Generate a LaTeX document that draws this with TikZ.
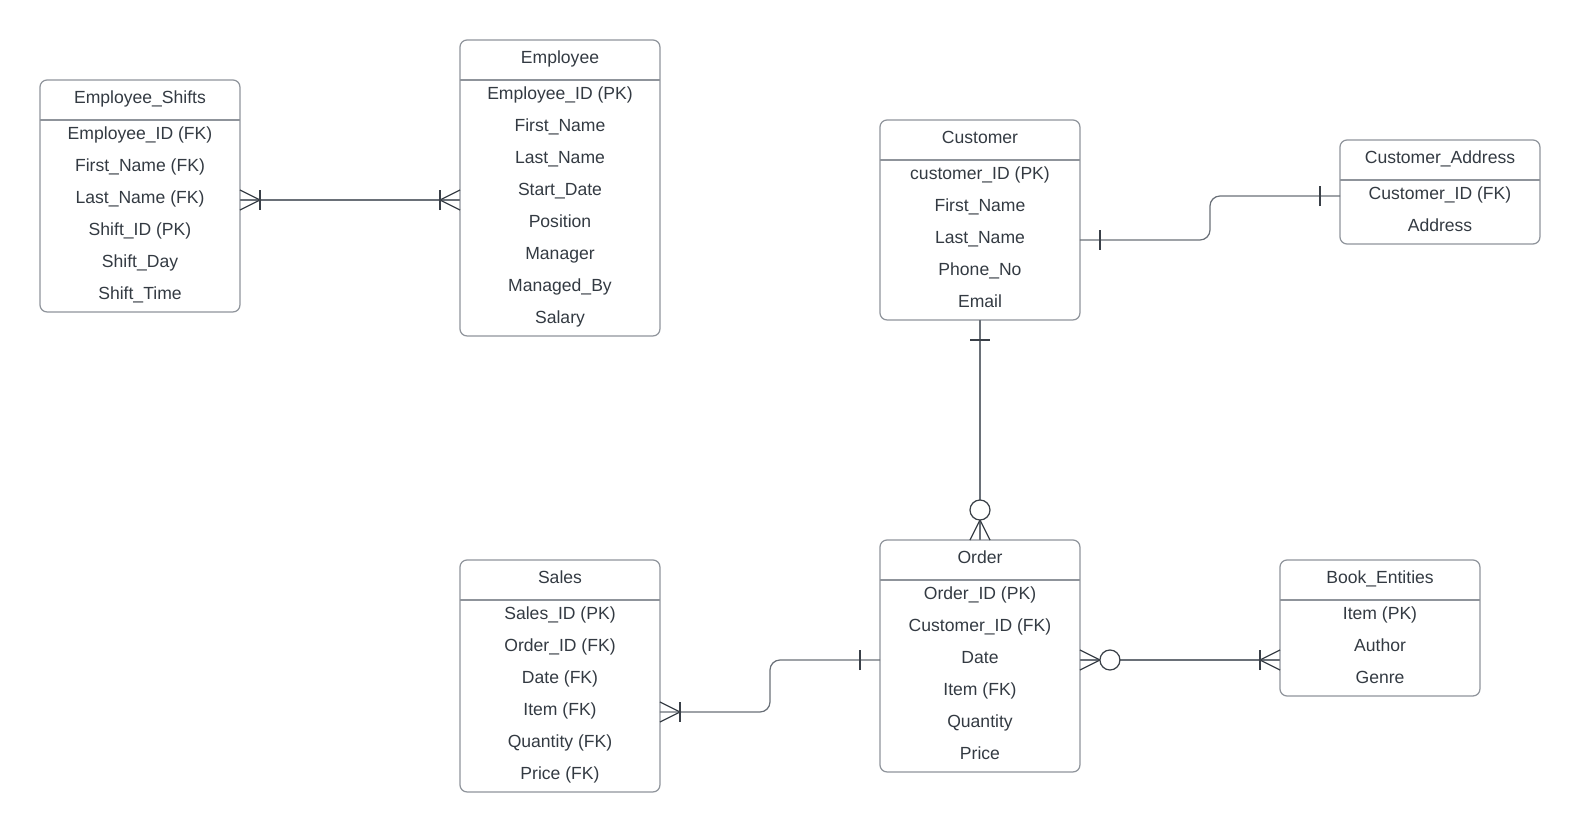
\documentclass[tikz,border=0pt]{standalone}
\usepackage{fontspec}
\setmainfont{Liberation Sans}
\usepackage{tikz}
\usepackage{xcolor}

\definecolor{boxgray}{HTML}{8F949B}
\definecolor{linegray}{HTML}{6A7078}
\definecolor{markgray}{HTML}{3A4048}
\definecolor{txtgray}{HTML}{333A42}

\tikzset{
	entity/.style={draw=boxgray, line width=0.7pt, rounded corners=0.14cm, anchor=north west, minimum width=4cm, inner sep=0pt, outer sep=0pt},
	divline/.style={draw=boxgray, line width=0.7pt},
	head/.style={text=txtgray, font=\fontsize{10}{12}\selectfont, inner sep=0pt, text height=7.2pt, text depth=0pt},
	field/.style={head},
	rel/.style={draw=linegray, line width=0.7pt, rounded corners=0.2cm},
	erline/.style={draw=markgray, line width=0.7pt},
	one/.pic={\draw[erline] (20,-10) -- (20,10);},
	onemany/.pic={\draw[erline] (0,-10) -- (20,0) -- (0,10); \draw[erline] (20,-10) -- (20,10);},
	zeromany/.pic={\draw[erline] (0,-10) -- (20,0) -- (0,10); \draw[erline, fill=white] (30,0) circle[radius=10];},
}

\newcommand{\erentity}[6]{%
	\node[entity, minimum height={0.8cm+#4*0.64cm}] (#1) at (#2,#3) {};
	\draw[divline] (#1.north west) ++(0,40) -- ++(200,0);
	\node[head] (#1-h) at ([shift={(100,17.5)}]#1.north west) {#5};
	\foreach \txt [count=\i] in {#6}
		\node[field] (#1-\i) at ([shift={(100,{21.5+32*\i})}]#1.north west) {\txt};
}

\begin{document}
\begin{tikzpicture}[x=0.02cm, y=-0.02cm]
	\useasboundingbox (0,0) rectangle (1580,832);
	% Define entities
	\erentity{shifts}{40}{80}{6}{Employee\_Shifts}{Employee\_ID (FK), First\_Name (FK), Last\_Name (FK), Shift\_ID (PK), Shift\_Day, Shift\_Time}
	\erentity{emp}{460}{40}{8}{Employee}{Employee\_ID (PK), First\_Name, Last\_Name, Start\_Date, Position, Manager, Managed\_By, Salary}
	\erentity{cust}{880}{120}{5}{Customer}{customer\_ID (PK), First\_Name, Last\_Name, Phone\_No, Email}
	\erentity{addr}{1340}{140}{2}{Customer\_Address}{Customer\_ID (FK), Address}
	\erentity{order}{880}{540}{6}{Order}{Order\_ID (PK), Customer\_ID (FK), Date, Item (FK), Quantity, Price}
	\erentity{sales}{460}{560}{6}{Sales}{Sales\_ID (PK), Order\_ID (FK), Date (FK), Item (FK), Quantity (FK), Price (FK)}
	\erentity{book}{1280}{560}{3}{Book\_Entities}{Item (PK), Author, Genre}

	% Relations
	\coordinate (cbend) at (1210,0);
	\coordinate (sbend) at (770,0);
	\draw[rel] ([yshift=-0.05cm]shifts-3 -| shifts.east) -- ([yshift=-0.05cm]shifts-3 -| emp.west);
	\draw[rel] ([yshift=-0.05cm]cust-3 -| cust.east) -| ([yshift=-0.05cm]cbend |- addr-1) -- ([yshift=-0.05cm]addr-1 -| addr.west);
	\draw[rel] (cust.south) -- (order.north);
	\draw[rel] ([yshift=-0.05cm]sales-4 -| sales.east) -| ([yshift=-0.05cm]sbend |- order-3) -- ([yshift=-0.05cm]order-3 -| order.west);
	\draw[rel] ([yshift=-0.05cm]order-3 -| order.east) -- ([yshift=-0.05cm]order-3 -| book.west);

	% Cardinalities
	\pic at ([yshift=-0.05cm]shifts-3 -| shifts.east) {onemany};
	\pic[rotate=180] at ([yshift=-0.05cm]shifts-3 -| emp.west) {onemany};
	\pic at ([yshift=-0.05cm]cust-3 -| cust.east) {one};
	\pic[rotate=180] at ([yshift=-0.05cm]addr-1 -| addr.west) {one};
	\pic[rotate=-90] at (cust.south) {one};
	\pic[rotate=90] at (order.north) {zeromany};
	\pic at ([yshift=-0.05cm]sales-4 -| sales.east) {onemany};
	\pic[rotate=180] at ([yshift=-0.05cm]order-3 -| order.west) {one};
	\pic at ([yshift=-0.05cm]order-3 -| order.east) {zeromany};
	\pic[rotate=180] at ([yshift=-0.05cm]order-3 -| book.west) {onemany};
\end{tikzpicture}
\end{document}
